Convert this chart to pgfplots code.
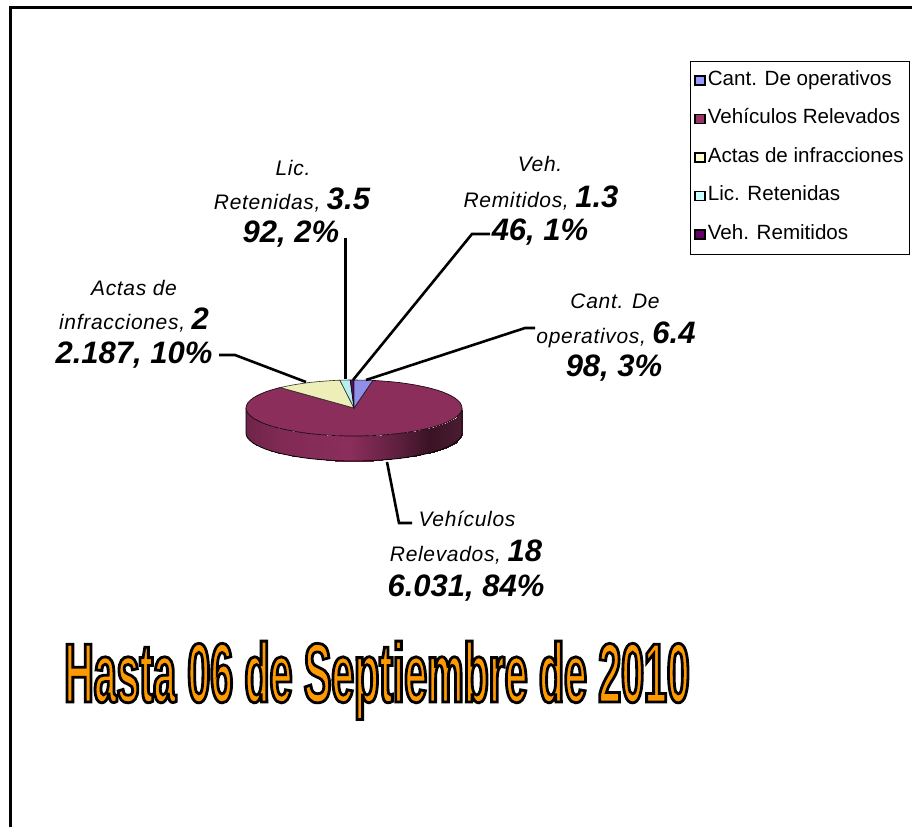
\documentclass[border=0pt]{standalone}
\usepackage{pgfplots}
\usepackage{fontspec}
\pgfplotsset{compat=1.18}
\setmainfont{Liberation Sans}
\newfontfamily\wordart[FakeStretch=0.489]{Liberation Sans Bold}
\newfontfamily\labfont[LetterSpace=3.2]{Liberation Sans Italic}
\definecolor{cblue}{RGB}{144,144,232}
\definecolor{cmaroon}{RGB}{139,46,92}
\definecolor{ccream}{RGB}{238,238,184}
\definecolor{ccyan}{RGB}{184,238,238}
\definecolor{cdark}{RGB}{90,10,90}
\definecolor{lblue}{RGB}{153,153,255}
\definecolor{lmaroon}{RGB}{153,51,102}
\definecolor{lcream}{RGB}{255,255,204}
\definecolor{lcyan}{RGB}{204,255,255}
\definecolor{ldark}{RGB}{102,0,102}
\newcommand{\smalll}{\fontsize{21}{23}\labfont}
\newcommand{\bign}[1]{{\fontsize{31}{33}\normalfont\bfseries\itshape #1}}
\begin{document}
\begin{tikzpicture}
\begin{axis}[
  width=912pt,height=827pt,scale only axis,
  xmin=0,xmax=912,ymin=0,ymax=827,y dir=reverse,
  hide axis,
  colormap={side}{rgb255(0cm)=(112,36,74); rgb255(3.4cm)=(128,42,84); rgb255(10.4cm)=(139,46,92); rgb255(15.4cm)=(92,30,60); rgb255(18.4cm)=(58,19,36); rgb255(21.6cm)=(76,28,50)},
  point meta min=246,point meta max=462,
  legend cell align=left,
  legend style={at={(axis cs:689.5,60.5)},anchor=north west,draw=black,line width=1pt,fill=white,
    font=\fontsize{20.6}{22}\selectfont,inner xsep=4pt,inner ysep=11pt,
    row sep=21.5pt,
    nodes={inner xsep=2pt,inner ysep=0pt,text height=13pt,text depth=4pt}},
  legend image code/.code={\draw[#1,draw=black,line width=1.8pt] (0pt,-4.5pt) rectangle (10pt,4.5pt);},
]
% background
\addplot[fill=white,draw=none,forget plot] coordinates {(0,0)(912,0)(912,827)(0,827)} -- cycle;
% frame
\addplot[black,line width=3pt,forget plot] coordinates {(10,827)(10,7.5)(912,7.5)};
% pie side
\addplot[patch,patch type=rectangle,shader=interp,point meta=x,forget plot] coordinates {
(462,408)(461.6,410.4)(461.6,435.4)(462,433)
(461.6,410.4)(460.4,412.9)(460.4,437.9)(461.6,435.4)
(460.4,412.9)(458.3,415.2)(458.3,440.2)(460.4,437.9)
(458.3,415.2)(455.5,417.6)(455.5,442.6)(458.3,440.2)
(455.5,417.6)(451.9,419.8)(451.9,444.8)(455.5,442.6)
(451.9,419.8)(447.5,422)(447.5,447)(451.9,444.8)
(447.5,422)(442.5,424.1)(442.5,449.1)(447.5,447)
(442.5,424.1)(436.7,426)(436.7,451)(442.5,449.1)
(436.7,426)(430.4,427.8)(430.4,452.8)(436.7,451)
(430.4,427.8)(423.4,429.4)(423.4,454.4)(430.4,452.8)
(423.4,429.4)(415.9,430.9)(415.9,455.9)(423.4,454.4)
(415.9,430.9)(408,432.2)(408,457.2)(415.9,455.9)
(408,432.2)(399.6,433.4)(399.6,458.4)(408,457.2)
(399.6,433.4)(390.9,434.3)(390.9,459.3)(399.6,458.4)
(390.9,434.3)(382,435)(382,460)(390.9,459.3)
(382,435)(372.8,435.6)(372.8,460.6)(382,460)
(372.8,435.6)(363.4,435.9)(363.4,460.9)(372.8,460.6)
(363.4,435.9)(354,436)(354,461)(363.4,460.9)
(354,436)(344.6,435.9)(344.6,460.9)(354,461)
(344.6,435.9)(335.2,435.6)(335.2,460.6)(344.6,460.9)
(335.2,435.6)(326,435)(326,460)(335.2,460.6)
(326,435)(317.1,434.3)(317.1,459.3)(326,460)
(317.1,434.3)(308.4,433.4)(308.4,458.4)(317.1,459.3)
(308.4,433.4)(300,432.2)(300,457.2)(308.4,458.4)
(300,432.2)(292.1,430.9)(292.1,455.9)(300,457.2)
(292.1,430.9)(284.6,429.4)(284.6,454.4)(292.1,455.9)
(284.6,429.4)(277.6,427.8)(277.6,452.8)(284.6,454.4)
(277.6,427.8)(271.3,426)(271.3,451)(277.6,452.8)
(271.3,426)(265.5,424.1)(265.5,449.1)(271.3,451)
(265.5,424.1)(260.5,422)(260.5,447)(265.5,449.1)
(260.5,422)(256.1,419.8)(256.1,444.8)(260.5,447)
(256.1,419.8)(252.5,417.6)(252.5,442.6)(256.1,444.8)
(252.5,417.6)(249.7,415.2)(249.7,440.2)(252.5,442.6)
(249.7,415.2)(247.6,412.9)(247.6,437.9)(249.7,440.2)
(247.6,412.9)(246.4,410.4)(246.4,435.4)(247.6,437.9)
(246.4,410.4)(246,408)(246,433)(246.4,435.4)
};
% side outline
\addplot[black,line width=0.8pt,forget plot] coordinates {(462,408)(462,433)(461.6,435.4)(460.4,437.9)(458.3,440.2)(455.5,442.6)(451.9,444.8)(447.5,447)(442.5,449.1)(436.7,451)(430.4,452.8)(423.4,454.4)(415.9,455.9)(408,457.2)(399.6,458.4)(390.9,459.3)(382,460)(372.8,460.6)(363.4,460.9)(354,461)(344.6,460.9)(335.2,460.6)(326,460)(317.1,459.3)(308.4,458.4)(300,457.2)(292.1,455.9)(284.6,454.4)(277.6,452.8)(271.3,451)(265.5,449.1)(260.5,447)(256.1,444.8)(252.5,442.6)(249.7,440.2)(247.6,437.9)(246.4,435.4)(246,433)(246,408)};
% pie top: maroon 84%
\addplot[fill=cmaroon,draw=black!80!cmaroon,line width=0.7pt,forget plot] coordinates {(354,408)(372.8,380.4)(382,381)(390.9,381.7)(399.6,382.6)(408,383.8)(415.9,385.1)(423.4,386.6)(430.4,388.2)(436.7,390)(442.5,391.9)(447.5,394)(451.9,396.2)(455.5,398.4)(458.3,400.8)(460.4,403.1)(461.6,405.6)(462,408)(461.6,410.4)(460.4,412.9)(458.3,415.2)(455.5,417.6)(451.9,419.8)(447.5,422)(442.5,424.1)(436.7,426)(430.4,427.8)(423.4,429.4)(415.9,430.9)(408,432.2)(399.6,433.4)(390.9,434.3)(382,435)(372.8,435.6)(363.4,435.9)(354,436)(344.6,435.9)(335.2,435.6)(326,435)(317.1,434.3)(308.4,433.4)(300,432.2)(292.1,430.9)(284.6,429.4)(277.6,427.8)(271.3,426)(265.5,424.1)(260.5,422)(256.1,419.8)(252.5,417.6)(249.7,415.2)(247.6,412.9)(246.4,410.4)(246,408)(246.4,405.6)(247.6,403.1)(249.7,400.8)(252.5,398.4)(256.1,396.2)(260.5,394)(265.5,391.9)(271.3,390)(277.6,388.2)(280.3,387.5)} -- cycle;
% cream 10%
\addplot[fill=ccream,draw=black!80!ccream,line width=0.6pt,forget plot] coordinates {(354,408)(280.3,387.5)(284.6,386.6)(292.1,385.1)(300,383.8)(308.4,382.6)(317.1,381.7)(326,381)(335.2,380.4)(339.9,380.2)} -- cycle;
% cyan 2%
\addplot[fill=ccyan,draw=black!80!ccyan,line width=0.6pt,forget plot] coordinates {(354,408)(339.9,380.2)(344.6,380.1)(350.2,380)} -- cycle;
% dark 1%
\addplot[fill=cdark,draw=black!80!cdark,line width=0.6pt,forget plot] coordinates {(354,408)(350.2,380)(354,380)} -- cycle;
% blue 3%
\addplot[fill=cblue,draw=black!80!cblue,line width=0.6pt,forget plot] coordinates {(354,408)(354,380)(363.4,380.1)(372.8,380.4)} -- cycle;
% leaders
\addplot[black,line width=2.6pt,forget plot] coordinates {(366,380)(525,328)(535,328)};
\addplot[black,line width=2.6pt,forget plot] coordinates {(353,380)(472,234)(490,234)};
\addplot[black,line width=2.6pt,forget plot] coordinates {(345.5,379)(345.5,238)};
\addplot[black,line width=2.6pt,forget plot] coordinates {(306,382)(235,355)(219,355)};
\addplot[black,line width=2.6pt,forget plot] coordinates {(387,462)(399,523)(412,523)};
% labels
\tikzset{lab/.style={inner sep=0pt,anchor=center,font=\smalll}}
\node[lab] at (axis cs:615,301) {Cant. De};
\node[lab] at (axis cs:616,335) {operativos, \bign{6.4}};
\node[lab] at (axis cs:614,368) {\bign{98, 3\%}};
\node[lab] at (axis cs:540,164) {Veh.};
\node[lab] at (axis cs:541,198) {Remitidos, \bign{1.3}};
\node[lab] at (axis cs:540,232) {\bign{46, 1\%}};
\node[lab] at (axis cs:293,168) {Lic.};
\node[lab] at (axis cs:292,200) {Retenidas, \bign{3.5}};
\node[lab] at (axis cs:291,234) {\bign{92, 2\%}};
\node[lab] at (axis cs:134,288) {Actas de};
\node[lab] at (axis cs:134,320) {infracciones, \bign{2}};
\node[lab] at (axis cs:134,355) {\bign{2.187, 10\%}};
\node[lab] at (axis cs:467,519) {Vehículos};
\node[lab] at (axis cs:466,552) {Relevados, \bign{18}};
\node[lab] at (axis cs:466,588) {\bign{6.031, 84\%}};
% title
\node[inner sep=0pt,anchor=base west] at (axis cs:64,702) {\fontsize{84}{90}\wordart\special{pdf:code q 2 Tr 2.8 w 0 0 0 RG 1 0.6 0 rg}Hasta 06 de Septiembre de 2010\special{pdf:code Q}};
% legend
\addlegendimage{fill=lblue}\addlegendentry{Cant. De operativos}
\addlegendimage{fill=lmaroon}\addlegendentry{Vehículos Relevados}
\addlegendimage{fill=lcream}\addlegendentry{Actas de infracciones}
\addlegendimage{fill=lcyan}\addlegendentry{Lic. Retenidas}
\addlegendimage{fill=ldark}\addlegendentry{Veh. Remitidos}
\end{axis}
\end{tikzpicture}
\end{document}
